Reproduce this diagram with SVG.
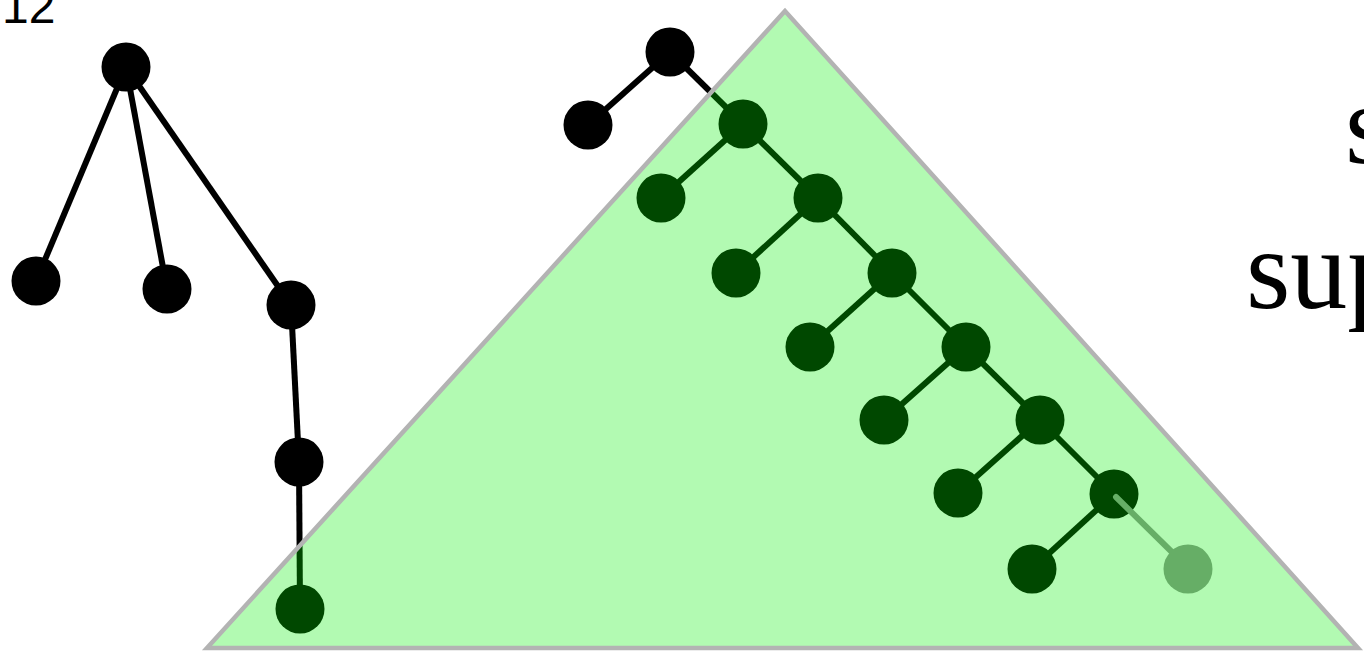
<svg xmlns="http://www.w3.org/2000/svg" width="1364" height="654" viewBox="0 0 1364 654">
<style>
.e{stroke:#000;stroke-width:6;fill:none}
.n{fill:#000}
.ge{stroke:#939393;stroke-width:6;stroke-linecap:round;fill:none}
.gn{fill:#939393}
.tri{fill:#00f000;fill-opacity:0.3;stroke:#b3b3b3;stroke-width:4.5;stroke-linejoin:miter}
.lbl{font-family:"Liberation Serif",serif;font-size:114px;fill:#000}
.num{font-family:"Liberation Sans",sans-serif;font-size:48px;fill:#000}
</style>
<rect width="1364" height="654" fill="#fff"/>
<text class="num" x="2" y="23">12</text>
<text class="lbl" x="1345" y="163">s</text>
<text class="lbl" x="1246" y="308">sup</text>
<g id="connectors">
<line class="e" x1="126" y1="67" x2="36" y2="281"/>
<line class="e" x1="126" y1="67" x2="167" y2="289"/>
<line class="e" x1="126" y1="67" x2="291" y2="305"/>
<line class="e" x1="291" y1="305" x2="299" y2="462"/>
<line class="e" x1="299" y1="462" x2="300" y2="609"/>
<line class="e" x1="670" y1="52" x2="588" y2="125"/>
<line class="e" x1="670" y1="52" x2="743" y2="124"/>
<line class="e" x1="743" y1="124" x2="661" y2="198"/>
<line class="e" x1="743" y1="124" x2="818" y2="198"/>
<line class="e" x1="818" y1="198" x2="736" y2="273"/>
<line class="e" x1="818" y1="198" x2="892" y2="273"/>
<line class="e" x1="892" y1="273" x2="810" y2="347"/>
<line class="e" x1="892" y1="273" x2="966" y2="347"/>
<line class="e" x1="966" y1="347" x2="884" y2="420"/>
<line class="e" x1="966" y1="347" x2="1040" y2="420"/>
<line class="e" x1="1040" y1="420" x2="958" y2="493"/>
<line class="e" x1="1040" y1="420" x2="1114" y2="494"/>
<line class="e" x1="1114" y1="494" x2="1032" y2="569"/>
</g>
<g id="n1"><circle class="n" cx="126" cy="67" r="24.5"/></g>
<g id="n2"><circle class="n" cx="36" cy="281" r="24.5"/></g>
<g id="n3"><circle class="n" cx="167" cy="289" r="24.5"/></g>
<g id="n4"><circle class="n" cx="291" cy="305" r="24.5"/></g>
<g id="n5"><circle class="n" cx="299" cy="462" r="24.5"/></g>
<g id="n6"><circle class="n" cx="300" cy="609" r="24.5"/></g>
<g id="t1"><circle class="n" cx="670" cy="52" r="24.5"/></g>
<g id="t2"><circle class="n" cx="588" cy="125" r="24.5"/></g>
<g id="t3"><circle class="n" cx="743" cy="124" r="24.5"/></g>
<g id="t4"><circle class="n" cx="661" cy="198" r="24.5"/></g>
<g id="t5"><circle class="n" cx="818" cy="198" r="24.5"/></g>
<g id="t6"><circle class="n" cx="736" cy="273" r="24.5"/></g>
<g id="t7"><circle class="n" cx="892" cy="273" r="24.5"/></g>
<g id="t8"><circle class="n" cx="810" cy="347" r="24.5"/></g>
<g id="t9"><circle class="n" cx="966" cy="347" r="24.5"/></g>
<g id="t10"><circle class="n" cx="884" cy="420" r="24.5"/></g>
<g id="t11"><circle class="n" cx="1040" cy="420" r="24.5"/></g>
<g id="t12"><circle class="n" cx="958" cy="493" r="24.5"/></g>
<g id="t13"><circle class="n" cx="1114" cy="494" r="24.5"/></g>
<g id="t14"><circle class="n" cx="1032" cy="569" r="24.5"/></g>
<g id="ghost-edge"><line class="ge" x1="1116" y1="497" x2="1180" y2="560"/></g>
<g id="t15"><circle class="gn" cx="1188" cy="569" r="24.5"/></g>
<g id="triangle"><polygon class="tri" points="785,11 207,648 1358,648"/></g>
</svg>
